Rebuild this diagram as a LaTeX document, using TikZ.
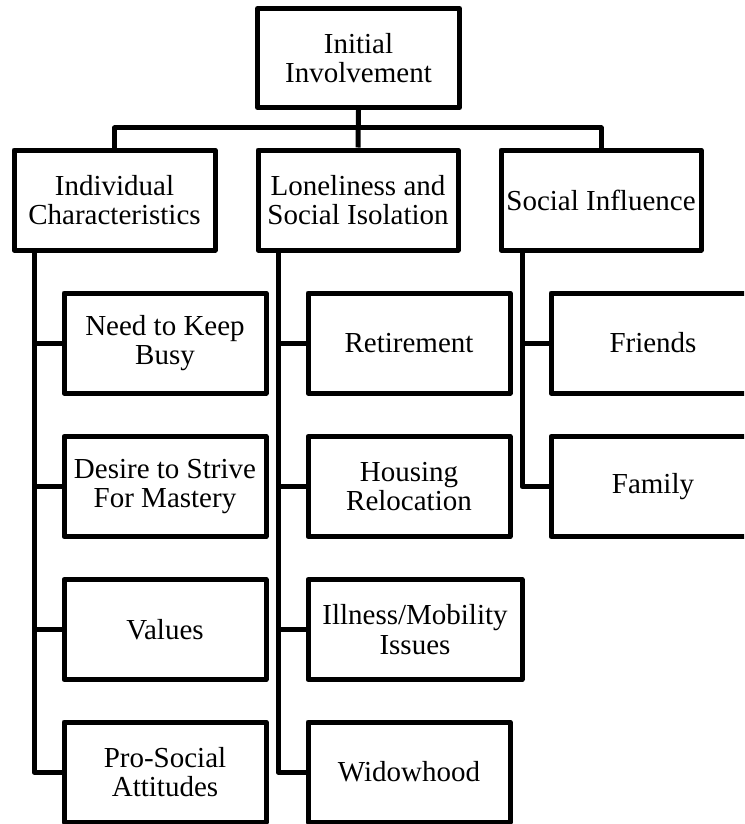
\documentclass[tikz,border=0pt]{standalone}
\usepackage{fontspec}
\setmainfont{Liberation Serif}
\begin{document}
\begin{tikzpicture}[x=1pt,y=-1pt,
  box/.style={draw=black, line width=5pt, line join=round, rectangle, align=center,
    inner sep=0pt, minimum height=100pt, font=\fontsize{29}{29.5}\selectfont},
  conn/.style={draw=black, line width=5pt, line join=round}]
\useasboundingbox (0,0) rectangle (744,824);
\clip (0,0) rectangle (744,824);
% top
\node[box, minimum width=202pt, minimum height=99pt] (top) at (358.5,58) {Initial\\Involvement};
% level 1
\node[box, minimum width=201pt] (ind) at (114.5,200) {Individual\\Characteristics};
\node[box, minimum width=200pt] (lon) at (358,200) {Loneliness and\\Social Isolation};
\node[box, minimum width=200pt] (soc) at (601,200) {Social Influence};
% left column
\node[box, minimum width=202pt] (need) at (165,343) {Need to Keep\\Busy};
\node[box, minimum width=202pt] (desire) at (165,486.5) {Desire to Strive\\For Mastery};
\node[box, minimum width=202pt] (values) at (165,629.5) {Values};
\node[box, minimum width=202pt] (pro) at (165,772) {Pro-Social\\Attitudes};
% middle column
\node[box, minimum width=202pt] (ret) at (409,343) {Retirement};
\node[box, minimum width=202pt] (hous) at (409,486.5) {Housing\\Relocation};
\node[box, minimum width=214pt] (ill) at (415,629.5) {Illness/Mobility\\Issues};
\node[box, minimum width=202pt] (wid) at (409,772) {Widowhood};
% right column
\node[box, minimum width=204pt] (fri) at (653,343) {Friends};
\node[box, minimum width=204pt] (fam) at (653,486.5) {Family};
% bus
\coordinate (busL) at (114.5,128);
\coordinate (busR) at (601,128);
\draw[conn] (ind.north) -- (busL) -- (busR) -- (soc.north);
\draw[conn] (top.south) -- (lon.north);
% spines
\coordinate (s1) at (34,250);
\coordinate (s2) at (278,250);
\coordinate (s3) at (522,250);
\draw[conn] (s1) |- (pro.west);
\foreach \n in {need,desire,values} \draw[conn] (s1 |- \n.west) -- (\n.west);
\draw[conn] (s2) |- (wid.west);
\foreach \n in {ret,hous,ill} \draw[conn] (s2 |- \n.west) -- (\n.west);
\draw[conn] (s3) |- (fam.west);
\draw[conn] (s3 |- fri.west) -- (fri.west);
\end{tikzpicture}
\end{document}
